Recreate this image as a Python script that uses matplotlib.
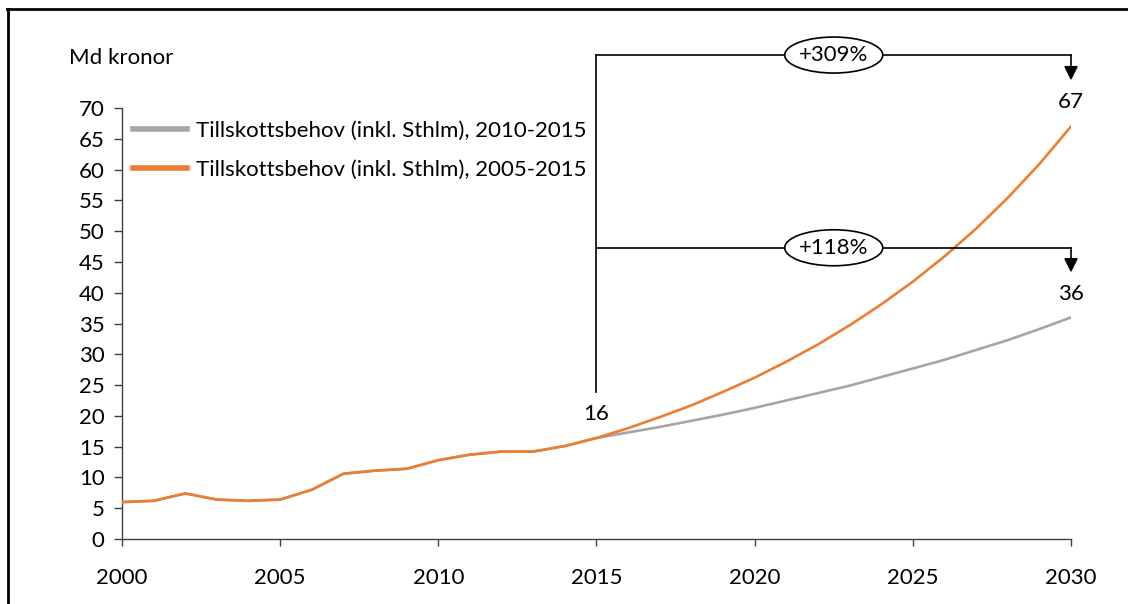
import matplotlib.pyplot as plt
from matplotlib.patches import Ellipse
from matplotlib.lines import Line2D

plt.rcParams['font.family'] = ['Lato', 'DejaVu Sans']

# Utfall 2000-2015 (Md kronor)
years_hist = list(range(2000, 2016))
hist = [6.0, 6.2, 7.4, 6.4, 6.2, 6.4, 8.0, 10.6, 11.1, 11.4, 12.8, 13.7, 14.2, 14.2, 15.1, 16.4]

# Prognos 2015-2030
years_proj = list(range(2015, 2031))
proj_2010 = [16.4, 17.3, 18.2, 19.2, 20.2, 21.3, 22.5, 23.7, 24.9, 26.3, 27.7, 29.1, 30.7, 32.3, 34.1, 36.0]
proj_2005 = [16.4, 18.0, 19.8, 21.7, 23.9, 26.2, 28.8, 31.6, 34.7, 38.1, 41.8, 45.9, 50.4, 55.4, 60.9, 67.0]

labels = ['Tillskottsbehov (inkl. Sthlm), 2010-2015',
          'Tillskottsbehov (inkl. Sthlm), 2005-2015']
growth = ['+309%', '+118%']
start_val = 16
end_vals = [67, 36]

GRAY = '#A5A5A5'
ORANGE = '#ED7D31'
FS = 16

fig = plt.figure(figsize=(11.28, 6.04), dpi=100)
W, H = 1128, 604
ax = fig.add_axes([122 / W, 1 - 539 / H, (1071 - 122) / W, (539 - 108) / H])

ax.plot(years_hist + years_proj[1:], hist + proj_2010[1:], color=GRAY, lw=1.9, zorder=3)
ax.plot(years_hist + years_proj[1:], hist + proj_2005[1:], color=ORANGE, lw=1.9, zorder=4)

ax.set_xlim(2000, 2030)
ax.set_ylim(0, 70)
ax.set_xticks(range(2000, 2031, 5))
ax.set_yticks(range(0, 71, 5))
for s in ['top', 'right']:
    ax.spines[s].set_visible(False)
for s in ['left', 'bottom']:
    ax.spines[s].set_color('#404040')
    ax.spines[s].set_linewidth(1.0)
ax.tick_params(axis='x', length=5, width=1, color='#404040', pad=16, labelsize=FS)
ax.tick_params(axis='y', length=5.5, width=1, color='#404040', pad=7, labelsize=FS)

# tillväxtpilar 2015 -> 2030
k = dict(color='black', lw=1.2, clip_on=False, zorder=5)
ax.plot([2015, 2015], [23.8, 78.6], **k)
for yline, ytip, txt, val in [(78.6, 74.5, growth[0], end_vals[0]),
                               (47.3, 43.3, growth[1], end_vals[1])]:
    ax.plot([2015, 2030], [yline, yline], **k)
    ax.annotate('', xy=(2030, ytip), xytext=(2030, yline), annotation_clip=False,
                arrowprops=dict(arrowstyle='-|>,head_length=0.6,head_width=0.3',
                                mutation_scale=14, color='black', lw=1.2,
                                shrinkA=0, shrinkB=0), zorder=5)
    ax.add_patch(Ellipse((2022.5, yline), 98 / 31.63, 36 / 6.157, facecolor='white',
                         edgecolor='black', lw=1.2, clip_on=False, zorder=6))
    ax.text(2022.5, yline, txt, ha='center', va='center', fontsize=FS, zorder=7)
    ax.text(2030, ytip - 3.5, str(val), ha='center', va='center', fontsize=FS, zorder=7)

ax.text(2015, 20.3, str(start_val), ha='center', va='center', fontsize=FS, zorder=7)

fig.text(69 / W, 1 - 58 / H, 'Md kronor', ha='left', va='center', fontsize=FS)

handles = [Line2D([], [], color=GRAY, lw=4), Line2D([], [], color=ORANGE, lw=4)]
fig.legend(handles, labels, loc='upper left', bbox_to_anchor=(113 / W, 1 - 101 / H),
           frameon=False, fontsize=FS, handlelength=2.45, handletextpad=0.4,
           labelspacing=0.85)

# ram runt figuren
fig.add_artist(Line2D([7 / W, 1], [1 - 9 / H, 1 - 9 / H], color='black', lw=2,
                      transform=fig.transFigure))
fig.add_artist(Line2D([8 / W, 8 / W], [0, 1 - 9 / H], color='black', lw=2,
                      transform=fig.transFigure))

fig.savefig('out.png', dpi=100)
